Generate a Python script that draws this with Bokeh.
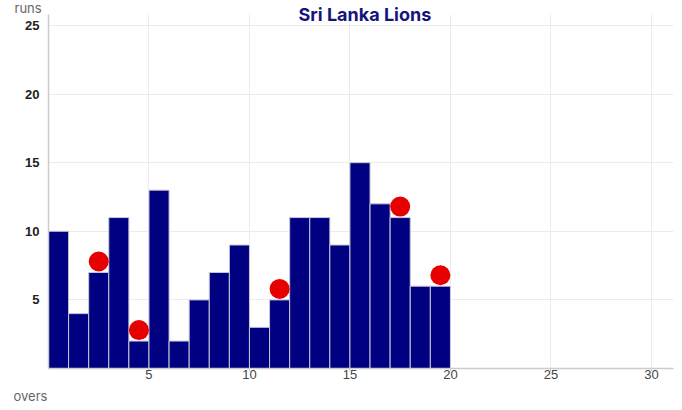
from bokeh.plotting import figure
from bokeh.models import Range1d, FixedTicker, Title
from bokeh.embed import file_html
from bokeh.resources import INLINE

# Data
overs = list(range(1, 21))
runs = [10, 4, 7, 11, 2, 13, 2, 5, 7, 9, 3, 5, 11, 11, 9, 15, 12, 11, 6, 6]
wicket_overs = [3, 5, 12, 18, 20]
x_ticks = [5, 10, 15, 20, 25, 30]
y_ticks = [5, 10, 15, 20, 25]
title_text = "Sri Lanka Lions"
x_label = "overs"
y_label = "runs"

FONT = "Inter"
TICK_FONT = "Liberation Sans"

p = figure(width=682, height=410, output_backend="svg", toolbar_location=None,
           x_range=Range1d(0, 31.1), y_range=Range1d(0, 25.8),
           min_border_left=48, min_border_right=9, min_border_top=14, min_border_bottom=42)
p.outline_line_color = None
p.background_fill_color = "white"
p.border_fill_color = "white"
p.title.visible = False

bar_x = [o - 0.5 for o in overs]
p.vbar(x=bar_x, top=runs, width=1, bottom=0, fill_color="#000080", line_color="#c8c8d8", line_width=1)

w_x = [o - 0.5 for o in wicket_overs]
w_y = [runs[o - 1] + 0.8 for o in wicket_overs]
p.scatter(x=w_x, y=w_y, size=20, fill_color="#e60000", line_color=None)

for ax in (p.xaxis[0], p.yaxis[0]):
    ax.axis_line_color = "#cccccc"
    ax.axis_line_width = 1.5
    ax.minor_tick_line_color = None
    ax.major_label_text_font = TICK_FONT
    ax.major_label_text_font_size = "13px"

p.yaxis.major_tick_line_color = None
p.xaxis.major_tick_line_color = "#cccccc"
p.xaxis.major_tick_in = 0
p.xaxis.major_tick_out = 3

p.xaxis.ticker = FixedTicker(ticks=x_ticks)
p.yaxis.ticker = FixedTicker(ticks=y_ticks)
p.xaxis.major_label_text_color = "#444444"
p.yaxis.major_label_text_color = "#222222"
p.yaxis.major_label_text_font_style = "bold"
p.xaxis.major_label_standoff = -2
p.yaxis.major_label_standoff = 3

p.xgrid.ticker = FixedTicker(ticks=x_ticks)
p.ygrid.ticker = FixedTicker(ticks=y_ticks)
p.xgrid.grid_line_color = "#ebebeb"
p.ygrid.grid_line_color = "#ebebeb"

main_title = Title(text=title_text, align="left", offset=250, vertical_align="bottom", standoff=-20,
                   text_font=FONT, text_font_size="18px", text_font_style="bold",
                   text_color="#14147a")
p.add_layout(main_title, "above")
runs_title = Title(text=y_label, align="left", offset=-34, vertical_align="bottom", standoff=-8,
                   text_font=FONT, text_font_size="13px", text_font_style="normal",
                   text_color="#666666")
p.add_layout(runs_title, "above")
overs_title = Title(text=x_label, align="left", offset=-35, vertical_align="middle", standoff=10,
                    text_font=FONT, text_font_size="13px", text_font_style="normal",
                    text_color="#666666")
p.add_layout(overs_title, "below")

open("out.html", "w").write(file_html(p, INLINE))
